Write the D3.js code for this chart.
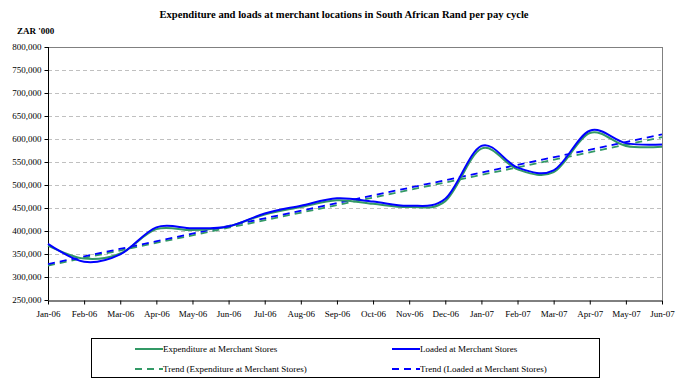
<!DOCTYPE html>
<html><head><meta charset="utf-8">
<script src="https://cdn.jsdelivr.net/npm/d3@7"></script>
<style>body{margin:0;background:#fff}svg{display:block}text{font-family:"Liberation Serif","Times New Roman",serif}</style>
</head><body><svg id="c" width="696" height="383"></svg>
<script>
const categories = ["Jan-06","Feb-06","Mar-06","Apr-06","May-06","Jun-06","Jul-06","Aug-06","Sep-06","Oct-06","Nov-06","Dec-06","Jan-07","Feb-07","Mar-07","Apr-07","May-07","Jun-07"];
const expenditure = [368000,340000,351000,404000,402000,410000,436000,452000,467000,459000,452000,465000,579000,534000,528000,613000,585000,583000];
const loaded      = [372000,333000,349000,408000,406000,410000,438000,455000,471000,464000,455000,470000,585000,538000,532000,618000,591000,588000];
const trendExpenditure = [325000,604000];
const trendLoaded = [328000,610000];
const yTicks = [250000,300000,350000,400000,450000,500000,550000,600000,650000,700000,750000,800000];
const seriesNames = ["Expenditure at Merchant Stores","Loaded at Merchant Stores","Trend (Expenditure at Merchant Stores)","Trend (Loaded at Merchant Stores)"];

const svg = d3.select("#c");
const L=48,R=662,T=47,B=300;
const x = d3.scalePoint().domain(categories).range([L,R]);
const y = d3.scaleLinear().domain([250000,800000]).range([B,T]);
const green="#339966", blue="#0000ff";

svg.append("text").attr("x",344).attr("y",18).attr("text-anchor","middle")
  .attr("font-size",10.6).attr("font-weight","bold").text("Expenditure and loads at merchant locations in South African Rand per pay cycle");
svg.append("text").attr("x",17).attr("y",34).attr("font-size",9).attr("font-weight","bold").text("ZAR '000");

// gridlines
svg.append("g").selectAll("line").data(yTicks.filter(v=>v>250000&&v<800000)).join("line")
  .attr("x1",L).attr("x2",R).attr("y1",d=>y(d)+0.5).attr("y2",d=>y(d)+0.5)
  .attr("stroke","#c0c0c0").attr("stroke-dasharray","4,3");
svg.append("line").attr("x1",L).attr("x2",R).attr("y1",T+0.5).attr("y2",T+0.5).attr("stroke","#808080");
svg.append("line").attr("x1",R+0.5).attr("x2",R+0.5).attr("y1",T).attr("y2",B).attr("stroke","#808080");

// axes
const yAxis = d3.axisLeft(y).tickValues(yTicks).tickFormat(d3.format(",")).tickSize(4).tickPadding(3);
const gy = svg.append("g").attr("transform",`translate(${L+0.5},0)`).call(yAxis);
gy.selectAll("text").attr("font-size",9).attr("fill","#000");
gy.selectAll("line,path").attr("stroke","#000");
const xAxis = d3.axisBottom(x).tickSizeInner(4).tickSizeOuter(0).tickPadding(6);
const gx = svg.append("g").attr("transform",`translate(0,${B+0.5})`).call(xAxis);
gx.selectAll("text").attr("font-size",9).attr("fill","#000");
gx.selectAll("line,path").attr("stroke","#000");
gy.select(".domain").attr("d",`M0,${T}V${B}`);

// trend lines
const tl = d3.line().x(d=>d[0]).y(d=>y(d[1]));
[[trendExpenditure,green],[trendLoaded,blue]].forEach(([t,c])=>{
  svg.append("path").attr("d",tl([[x(categories[0]),t[0]],[x(categories[categories.length-1]),t[1]]]))
    .attr("fill","none").attr("stroke",c).attr("stroke-width",1.8).attr("stroke-dasharray","7,5");
});
// series
const line = d3.line().x((d,i)=>x(categories[i])).y(d=>y(d)).curve(d3.curveCardinal.tension(0));
svg.append("path").attr("d",line(expenditure)).attr("fill","none").attr("stroke",green).attr("stroke-width",2);
svg.append("path").attr("d",line(loaded)).attr("fill","none").attr("stroke",blue).attr("stroke-width",2);

// legend
svg.append("rect").attr("x",91.5).attr("y",338.5).attr("width",508).attr("height",39).attr("fill","none").attr("stroke","#000");
const leg = [
  {n:seriesNames[0],c:green,d:null,x:135,y:349},
  {n:seriesNames[1],c:blue,d:null,x:392,y:349},
  {n:seriesNames[2],c:green,d:"7,5",x:135,y:369},
  {n:seriesNames[3],c:blue,d:"7,5",x:392,y:369}];
const lg = svg.append("g").selectAll("g").data(leg).join("g");
lg.append("line").attr("x1",d=>d.x).attr("x2",d=>d.x+28).attr("y1",d=>d.y).attr("y2",d=>d.y)
  .attr("stroke",d=>d.c).attr("stroke-width",2).attr("stroke-dasharray",d=>d.d);
lg.append("text").attr("x",d=>d.x+28).attr("y",d=>d.y+3).attr("font-size",9).text(d=>d.n);
</script></body></html>
